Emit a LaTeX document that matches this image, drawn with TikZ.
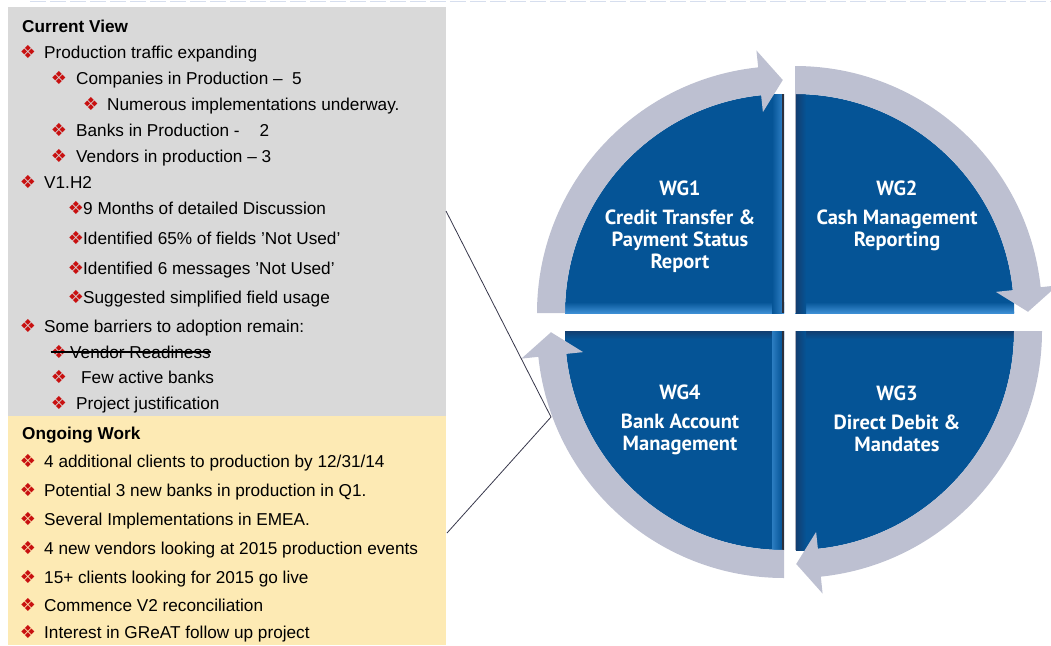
\documentclass[tikz,border=0pt]{standalone}
\usepackage{fontspec}
\setmainfont{Liberation Sans}
\newfontfamily\dingfont{DejaVu Sans}
\newfontfamily\wgfont{PT Sans}
\usetikzlibrary{positioning,calc}
\definecolor{cvgray}{RGB}{217,217,217}
\definecolor{owyellow}{RGB}{253,234,180}
\definecolor{bulletred}{RGB}{200,16,16}
\definecolor{quadblue}{RGB}{5,84,150}
\definecolor{bevelblue}{RGB}{60,142,212}
\definecolor{shadeblue}{RGB}{18,62,112}
\definecolor{darkedge}{RGB}{45,48,60}
\definecolor{ringgray}{RGB}{189,192,209}
\definecolor{dashblue}{RGB}{214,222,238}
\definecolor{linkgray}{RGB}{55,55,75}
\tikzset{
  item/.style={anchor=base west, inner sep=0pt, font=\fontsize{17.2}{20}\selectfont},
  head/.style={anchor=base west, inner sep=0pt, font=\fontsize{17.2}{20}\selectfont\bfseries},
  bul/.style={inner sep=0pt, text=bulletred, font=\dingfont\fontsize{18}{18}\selectfont},
  panel/.style={anchor=north west, inner sep=0pt, minimum width=438pt},
  wg/.style={anchor=north, align=center, inner sep=0pt, text=white, font=\wgfont\bfseries\fontsize{20.5}{22}\selectfont},
}

\begin{document}
\begin{tikzpicture}[x=1pt,y=1pt]
  \useasboundingbox (0,0) rectangle (1051,-645);

  % top rule
  \draw[dashblue, line width=1.5pt, dash pattern=on 16pt off 4pt] (30,-1.5) -- (1051,-1.5);

  % panels
  \node[panel, fill=cvgray, minimum height=409pt] (cvpanel) at (8,-7) {};
  \node[panel, fill=owyellow, minimum height=229pt] (owpanel) at (8,-416) {};

  % current view
  \node[head] (cvhead) at (22,-32) {Current View};
  \foreach \bx/\tx/\y/\t [count=\i] in {
      28/44/52/{Production traffic expanding},
      59/76/78/{Companies in Production --\ \ 5},
      91/107/104/{Numerous implementations underway.},
      59/76/130/{Banks in Production -\hspace{20pt}2},
      59/76/156/{Vendors in production -- 3},
      28/44/182/{V1.H2},
      76/83/208/{9 Months of detailed Discussion},
      76/83/238/{Identified 65\% of fields 'Not Used'},
      76/83/268/{Identified 6 messages 'Not Used'},
      76/83/297/{Suggested simplified field usage},
      28/44/326/{Some barriers to adoption remain:},
      59/70/352/{Vendor Readiness},
      59/81/377/{Few active banks},
      59/76/403/{Project justification}}
  {
    \node[bul] (cvb\i) at (\bx,-\y) {❖};
    \node[item] (cv\i) at (\tx,-\y-6.2) {\t};
  }
  \draw[black, line width=1.1pt] (cvb12.west) -- (cv12.east |- cvb12.west);

  % ongoing work
  \node[head] (owhead) at (22,-439) {Ongoing Work};
  \foreach \y/\t [count=\i] in {
      461/{4 additional clients to production by 12/31/14},
      490/{Potential 3 new banks in production in Q1.},
      519/{Several Implementations in EMEA.},
      548/{4 new vendors looking at 2015 production events},
      577/{15+ clients looking for 2015 go live},
      605/{Commence V2 reconciliation},
      632/{Interest in GReAT follow up project}}
  {
    \node[bul] (owb\i) at (28,-\y) {❖};
    \node[item] (ow\i) at (44,-\y-6.2) {\t};
  }

  % quadrants
  \foreach \cx/\cy/\rot in {784/313/0, 795/313/-90, 795/331/-180, 784/331/-270}
  {
    \begin{scope}[shift={(\cx,-\cy)}, rotate=\rot]
      \fill[quadblue] (0,0) -- (180:219pt) arc[start angle=180, end angle=90, radius=219pt] -- cycle;
    \end{scope}
  }

  % bevels
  \shade[top color=quadblue, bottom color=bevelblue] (565,-302) rectangle (784,-313);
  \shade[top color=quadblue, bottom color=bevelblue] (795,-302) rectangle (1014,-313);
  \shade[top color=shadeblue, bottom color=quadblue] (565,-331) rectangle (784,-339);
  \shade[top color=shadeblue, bottom color=quadblue] (795,-331) rectangle (1014,-339);
  \shade[left color=quadblue, right color=bevelblue!70!quadblue] (772,-94) rectangle (782,-313);
  \shade[left color=bevelblue!70!quadblue, right color=quadblue] (772,-331) rectangle (782,-550) ;
  \shade[left color=shadeblue, right color=quadblue] (796,-94) rectangle (806,-313);
  \shade[left color=shadeblue, right color=quadblue] (796,-331) rectangle (806,-550);
  \draw[darkedge, line width=2pt] (783,-94) -- (783,-313);
  \draw[darkedge, line width=2pt] (783,-331) -- (783,-550);
  \draw[ringgray!70!gray, line width=1pt] (795.5,-94) -- (795.5,-313);
  \draw[ringgray!70!gray, line width=1pt] (795.5,-331) -- (795.5,-550);

  % ring arrows
  \foreach \cx/\cy/\rot in {784/313/0, 795/313/-90, 795/331/-180, 784/331/-270}
  {
    \begin{scope}[shift={(\cx,-\cy)}, rotate=\rot]
      \fill[ringgray] (180:219pt) -- (180:247pt) arc[start angle=180, end angle=96, radius=247pt]
        -- (96:264pt) -- (90.3:233pt) -- (96:202pt) -- (96:219pt)
        arc[start angle=96, end angle=180, radius=219pt] -- cycle;
    \end{scope}
  }

  % labels
  \node[wg] (wg1) at (680,-181) {WG1\\[7pt]Credit Transfer \&\\Payment Status\\Report};
  \node[wg] (wg2) at (897,-181) {WG2\\[7pt]Cash Management\\Reporting};
  \node[wg] (wg4) at (680,-385) {WG4\\[7pt]Bank Account\\Management};
  \node[wg] (wg3) at (897,-386) {WG3\\[7pt]Direct Debit \&\\Mandates};

  % link
  \coordinate (cvlink) at (446,-211);
  \coordinate (ringtouch) at (551,-417);
  \coordinate (owlink) at (447,-533);
  \draw[linkgray, line width=0.8pt] (cvlink) -- (ringtouch) -- (owlink);
\end{tikzpicture}
\end{document}
